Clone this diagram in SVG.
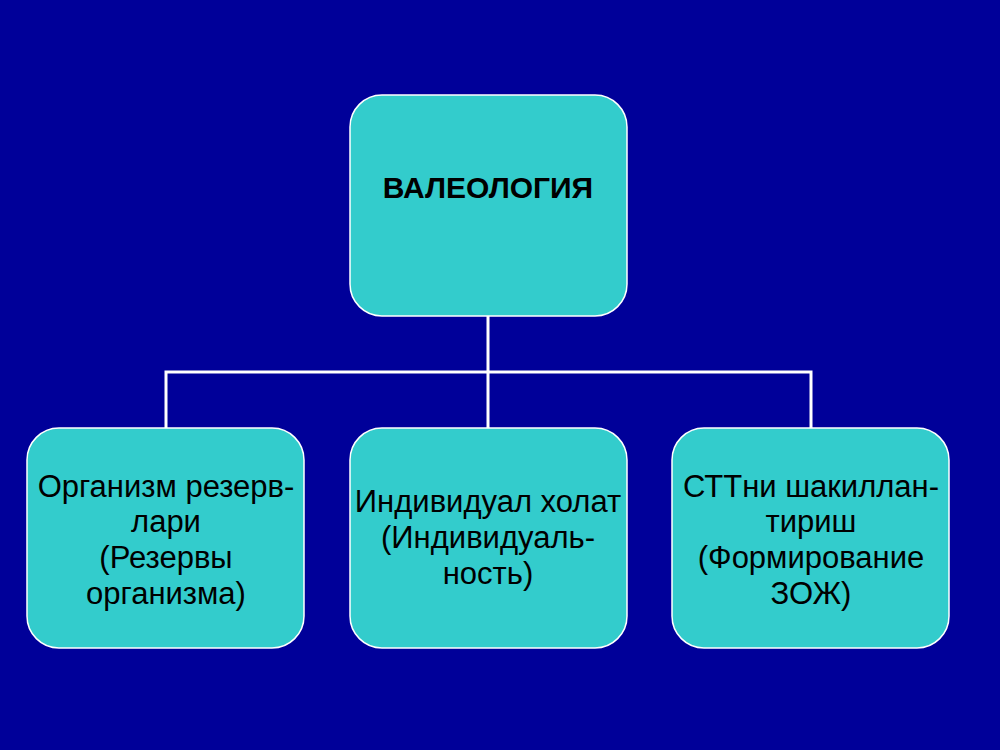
<svg xmlns="http://www.w3.org/2000/svg" width="1000" height="750" viewBox="0 0 1000 750">
<style>
.box{fill:#33CCCC;stroke:#FFFFFF;stroke-width:1.5}
.t{font-family:"Liberation Sans",Arial,sans-serif;font-size:31px;fill:#000000;text-anchor:middle}
.b{font-weight:bold;font-size:30px}
.c{fill:none;stroke:#FFFFFF;stroke-width:3}
</style>
<rect x="0" y="0" width="1000" height="750" fill="#000099"/>
<g id="connectors">
<path class="c" d="M488 316 V428 M166 428 V372 H811 V428"/>
</g>
<g id="n-top">
<rect class="box" x="350" y="95" width="277" height="221" rx="32"/>
<text class="t b" x="488" y="198">ВАЛЕОЛОГИЯ</text>
</g>
<g id="n-left">
<rect class="box" x="27" y="428" width="277" height="220" rx="32"/>
<text class="t" x="166" y="497">Организм резерв-</text>
<text class="t" x="166" y="532">лари</text>
<text class="t" x="166" y="568">(Резервы</text>
<text class="t" x="166" y="604">организма)</text>
</g>
<g id="n-mid">
<rect class="box" x="350" y="428" width="277" height="220" rx="32"/>
<text class="t" x="488" y="512">Индивидуал холат</text>
<text class="t" x="488" y="548">(Индивидуаль-</text>
<text class="t" x="488" y="584">ность)</text>
</g>
<g id="n-right">
<rect class="box" x="672" y="428" width="277" height="220" rx="32"/>
<text class="t" x="811" y="497">СТТни шакиллан-</text>
<text class="t" x="811" y="532">тириш</text>
<text class="t" x="811" y="568">(Формирование</text>
<text class="t" x="811" y="604">ЗОЖ)</text>
</g>
</svg>
